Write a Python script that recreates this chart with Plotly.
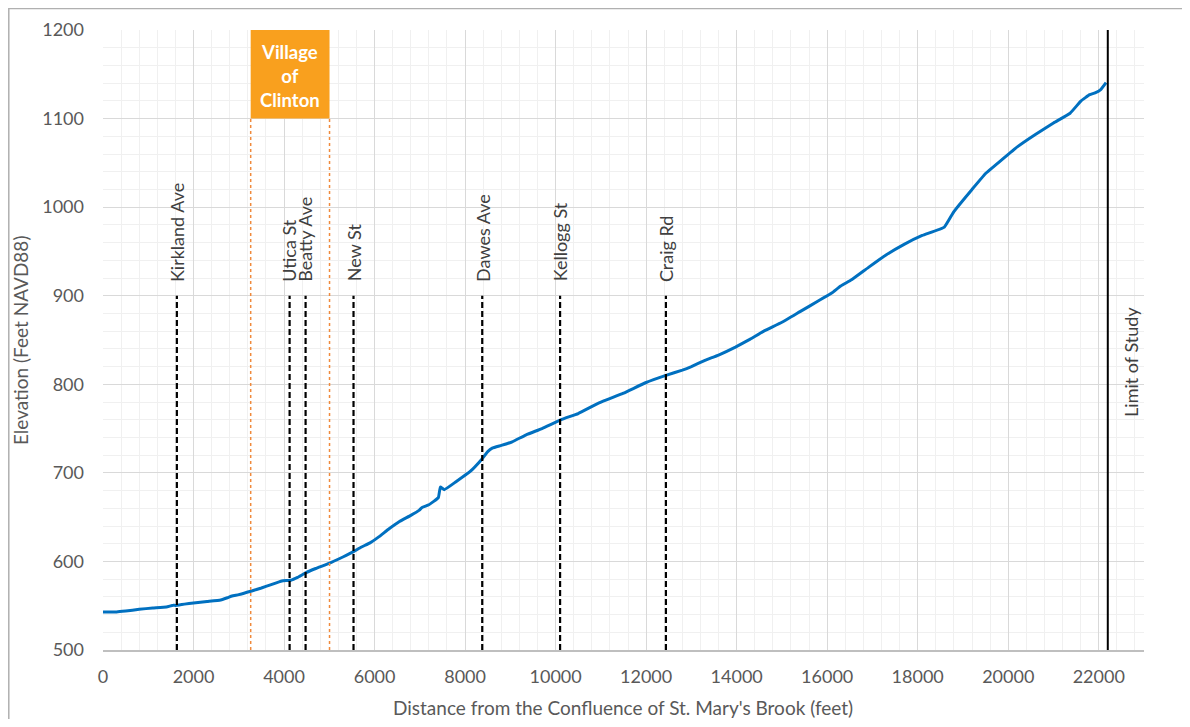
import plotly.graph_objects as go

# Profile data (distance ft, elevation ft NAVD88)
distance = [0, 300, 500, 800, 1100, 1400, 1550, 1600, 1800, 2000, 2300, 2600, 2750, 2850,
            3000, 3285, 3500, 3700, 3950, 4150, 4300, 4476, 4700, 5005, 5300, 5535, 5700,
            5900, 6100, 6300, 6550, 6800, 6990, 7050, 7200, 7409, 7453, 7541, 7800, 8100,
            8379, 8500, 8600, 8800, 9041, 9350, 9700, 10121, 10500, 10960, 11500, 12000,
            12437, 12800, 13000, 13300, 13600, 13973, 14300, 14600, 15000, 15400, 15800,
            16100, 16300, 16538, 16913, 17300, 17700, 18100, 18589, 18800, 19200, 19500,
            19846, 20200, 20600, 21000, 21367, 21609, 21800, 21918, 22050, 22161]
elevation = [543, 543, 544, 546, 547.4, 548.5, 550.5, 550.3, 551.8, 553, 554.8, 556.5, 559,
             561, 562.5, 566.6, 570, 573.5, 578, 578.8, 582, 587, 592, 598, 605, 611, 616,
             621, 628, 636, 645, 652, 658, 661, 664, 672, 684, 681, 690, 701, 716, 724, 728,
             731, 735, 743, 750, 760, 767, 779, 790, 802, 810, 816, 820, 827, 833, 842, 851,
             860, 870, 882, 894, 903, 911, 918, 932, 946, 958, 968, 977.5, 995, 1020, 1038,
             1053, 1068, 1082, 1095, 1106, 1120, 1127, 1129, 1133, 1140.5]

# Road crossings
road_names = ["Kirkland Ave", "Utica St", "Beatty Ave", "New St", "Dawes Ave", "Kellogg St", "Craig Rd"]
road_x = [1632, 4123, 4476, 5535, 8379, 10099, 12437]
road_top = 900

# Village of Clinton limits
village_x = [3263, 5005]
village_label = "Village<br>of<br>Clinton"
village_box = [1100, 1200]

# Limit of study
limit_x = 22200
limit_label = "Limit of Study"

x_title = "Distance from the Confluence of St. Mary's Brook (feet)"
y_title = "Elevation (Feet NAVD88)"

x_range = [0, 23000]
y_range = [500, 1200]

FONT = "Lato"

fig = go.Figure()
fig.add_trace(go.Scatter(x=distance, y=elevation, mode="lines",
                         line=dict(color="#0070C0", width=3, shape="spline", smoothing=0.3),
                         showlegend=False, hoverinfo="x+y"))

shapes = []
annotations = []
for name, xv in zip(road_names, road_x):
    shapes.append(dict(type="line", x0=xv, x1=xv, y0=y_range[0], y1=road_top, xref="x", yref="y",
                       line=dict(color="black", width=2.2, dash="6px,3px")))
    annotations.append(dict(x=xv, y=road_top, xref="x", yref="y", text=name, textangle=-90,
                            showarrow=False, xanchor="center", yanchor="bottom", yshift=12,
                            font=dict(size=18, color="#404040", family=FONT)))

for xv in village_x:
    shapes.append(dict(type="line", x0=xv, x1=xv, y0=y_range[0], y1=village_box[0], xref="x", yref="y",
                       line=dict(color="#F08A3C", width=1.5, dash="dot")))
shapes.append(dict(type="rect", x0=village_x[0], x1=village_x[1], y0=village_box[0], y1=village_box[1],
                   xref="x", yref="y", fillcolor="#F9A01E", line=dict(width=0), layer="above"))
annotations.append(dict(x=sum(village_x) / 2, y=1148, xref="x", yref="y",
                        text="<b>" + village_label + "</b>", showarrow=False,
                        font=dict(size=18.5, color="white", family=FONT)))

shapes.append(dict(type="line", x0=limit_x, x1=limit_x, y0=y_range[0], y1=y_range[1], xref="x", yref="y",
                   line=dict(color="black", width=2)))
annotations.append(dict(x=limit_x, y=825, xref="x", yref="y", text=limit_label, textangle=-90,
                        showarrow=False, xanchor="left", yanchor="middle", xshift=10,
                        font=dict(size=18, color="#404040", family=FONT)))

# axis titles
annotations.append(dict(x=0.4995, y=-0.0935, xref="paper", yref="paper", text=x_title,
                        showarrow=False, xanchor="center", yanchor="middle",
                        font=dict(size=19, color="#595959", family=FONT)))
annotations.append(dict(x=-0.0797, y=0.5, xref="paper", yref="paper", text=y_title, textangle=-90,
                        showarrow=False, xanchor="center", yanchor="middle",
                        font=dict(size=19, color="#595959", family=FONT)))

# outer chart border
shapes.append(dict(type="rect", xref="paper", yref="paper", x0=-0.0905, x1=1.0413, y0=-0.14, y1=1.0345,
                   line=dict(color="#B0B0B0", width=1.5), fillcolor="rgba(0,0,0,0)"))

# page has an 8px body margin, so the figure is offset by 8px
fig.update_layout(
    width=1182, height=711,
    margin=dict(l=95, r=46, t=22, b=69),
    paper_bgcolor="white", plot_bgcolor="white",
    font=dict(family=FONT, color="#595959"),
    shapes=shapes, annotations=annotations,
    xaxis=dict(range=x_range, dtick=2000, tick0=0, tickformat="d", showgrid=True,
               gridcolor="#D9D9D9", gridwidth=1,
               minor=dict(dtick=400, showgrid=True, gridcolor="#F0F0F0", gridwidth=1),
               showline=True, linecolor="#BFBFBF", linewidth=1.5, zeroline=False,
               ticks="", ticklabelstandoff=10, automargin=False,
               tickfont=dict(size=18, color="#595959", family=FONT)),
    yaxis=dict(range=y_range, dtick=100, tick0=500, tickformat="d", showgrid=True,
               gridcolor="#D9D9D9", gridwidth=1,
               minor=dict(dtick=20, showgrid=True, gridcolor="#F0F0F0", gridwidth=1),
               showline=False, zeroline=False, ticks="", ticklabelstandoff=18, automargin=False,
               tickfont=dict(size=18, color="#595959", family=FONT)),
)

fig.write_html("out.html")
